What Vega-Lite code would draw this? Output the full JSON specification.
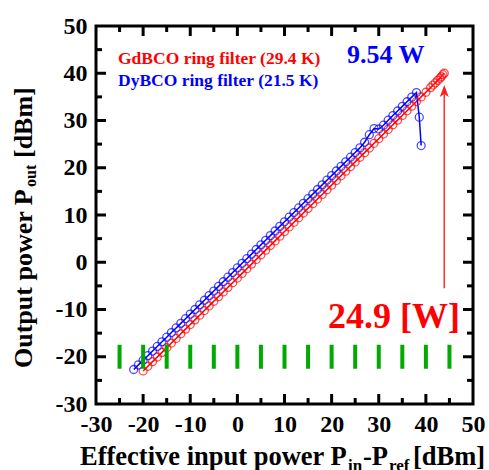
{
  "$schema": "https://vega.github.io/schema/vega-lite/v6.json",
  "width": 377,
  "height": 378,
  "autosize": {"type": "none"},
  "padding": {"left": 96, "top": 26, "right": 16, "bottom": 66},
  "background": "white",
  "config": {
    "view": {"stroke": "black", "strokeWidth": 3},
    "axis": {
      "domain": false,
      "grid": false,
      "labelFont": "Liberation Serif",
      "labelFontWeight": 700,
      "labelFontSize": 24,
      "labelColor": "black",
      "labelFlush": false,
      "labelOverlap": false,
      "labelBound": false
    },
    "text": {"font": "Liberation Serif", "fontWeight": "bold", "align": "left", "baseline": "alphabetic"}
  },
  "datasets": {
    "series": [
      {"s": "GdBCO", "x": -20, "y": -23.0}, {"s": "GdBCO", "x": -19, "y": -22.02}, {"s": "GdBCO", "x": -18, "y": -21.03}, {"s": "GdBCO", "x": -17, "y": -20.05}, {"s": "GdBCO", "x": -16, "y": -19.07}, {"s": "GdBCO", "x": -15, "y": -18.09}, {"s": "GdBCO", "x": -14, "y": -17.1}, {"s": "GdBCO", "x": -13, "y": -16.12}, {"s": "GdBCO", "x": -12, "y": -15.14}, {"s": "GdBCO", "x": -11, "y": -14.15}, {"s": "GdBCO", "x": -10, "y": -13.17}, {"s": "GdBCO", "x": -9, "y": -12.19}, {"s": "GdBCO", "x": -8, "y": -11.2}, {"s": "GdBCO", "x": -7, "y": -10.22}, {"s": "GdBCO", "x": -6, "y": -9.24}, {"s": "GdBCO", "x": -5, "y": -8.25}, {"s": "GdBCO", "x": -4, "y": -7.27}, {"s": "GdBCO", "x": -3, "y": -6.29}, {"s": "GdBCO", "x": -2, "y": -5.31}, {"s": "GdBCO", "x": -1, "y": -4.32}, {"s": "GdBCO", "x": 0, "y": -3.34}, {"s": "GdBCO", "x": 1, "y": -2.36}, {"s": "GdBCO", "x": 2, "y": -1.37}, {"s": "GdBCO", "x": 3, "y": -0.39}, {"s": "GdBCO", "x": 4, "y": 0.59}, {"s": "GdBCO", "x": 5, "y": 1.58}, {"s": "GdBCO", "x": 6, "y": 2.56}, {"s": "GdBCO", "x": 7, "y": 3.54}, {"s": "GdBCO", "x": 8, "y": 4.52}, {"s": "GdBCO", "x": 9, "y": 5.51}, {"s": "GdBCO", "x": 10, "y": 6.49}, {"s": "GdBCO", "x": 11, "y": 7.47}, {"s": "GdBCO", "x": 12, "y": 8.46}, {"s": "GdBCO", "x": 13, "y": 9.44}, {"s": "GdBCO", "x": 14, "y": 10.42}, {"s": "GdBCO", "x": 15, "y": 11.41}, {"s": "GdBCO", "x": 16, "y": 12.39}, {"s": "GdBCO", "x": 17, "y": 13.37}, {"s": "GdBCO", "x": 18, "y": 14.35}, {"s": "GdBCO", "x": 19, "y": 15.34}, {"s": "GdBCO", "x": 20, "y": 16.32}, {"s": "GdBCO", "x": 21, "y": 17.3}, {"s": "GdBCO", "x": 22, "y": 18.29}, {"s": "GdBCO", "x": 23, "y": 19.27}, {"s": "GdBCO", "x": 24, "y": 20.25}, {"s": "GdBCO", "x": 25, "y": 21.24}, {"s": "GdBCO", "x": 26, "y": 22.22}, {"s": "GdBCO", "x": 27, "y": 23.2}, {"s": "GdBCO", "x": 28, "y": 24.18}, {"s": "GdBCO", "x": 29, "y": 25.17}, {"s": "GdBCO", "x": 30, "y": 26.15}, {"s": "GdBCO", "x": 31, "y": 27.13}, {"s": "GdBCO", "x": 32, "y": 28.12}, {"s": "GdBCO", "x": 33, "y": 29.1}, {"s": "GdBCO", "x": 34, "y": 30.08}, {"s": "GdBCO", "x": 35, "y": 31.07}, {"s": "GdBCO", "x": 36, "y": 32.05}, {"s": "GdBCO", "x": 37, "y": 33.03}, {"s": "GdBCO", "x": 38, "y": 34.01}, {"s": "GdBCO", "x": 39, "y": 35.0}, {"s": "GdBCO", "x": 40, "y": 35.98}, {"s": "GdBCO", "x": 41, "y": 36.96}, {"s": "GdBCO", "x": 41.5, "y": 37.5}, {"s": "GdBCO", "x": 42, "y": 37.95}, {"s": "GdBCO", "x": 42.5, "y": 38.5}, {"s": "GdBCO", "x": 43, "y": 38.95}, {"s": "GdBCO", "x": 43.3, "y": 39.3}, {"s": "GdBCO", "x": 43.6, "y": 39.7}, {"s": "GdBCO", "x": 43.9, "y": 40.0},
      {"s": "DyBCO", "x": -22, "y": -22.7}, {"s": "DyBCO", "x": -21, "y": -21.72}, {"s": "DyBCO", "x": -20, "y": -20.75}, {"s": "DyBCO", "x": -19, "y": -19.77}, {"s": "DyBCO", "x": -18, "y": -18.79}, {"s": "DyBCO", "x": -17, "y": -17.82}, {"s": "DyBCO", "x": -16, "y": -16.84}, {"s": "DyBCO", "x": -15, "y": -15.86}, {"s": "DyBCO", "x": -14, "y": -14.88}, {"s": "DyBCO", "x": -13, "y": -13.91}, {"s": "DyBCO", "x": -12, "y": -12.93}, {"s": "DyBCO", "x": -11, "y": -11.95}, {"s": "DyBCO", "x": -10, "y": -10.98}, {"s": "DyBCO", "x": -9, "y": -10.0}, {"s": "DyBCO", "x": -8, "y": -9.02}, {"s": "DyBCO", "x": -7, "y": -8.04}, {"s": "DyBCO", "x": -6, "y": -7.07}, {"s": "DyBCO", "x": -5, "y": -6.09}, {"s": "DyBCO", "x": -4, "y": -5.11}, {"s": "DyBCO", "x": -3, "y": -4.13}, {"s": "DyBCO", "x": -2, "y": -3.16}, {"s": "DyBCO", "x": -1, "y": -2.18}, {"s": "DyBCO", "x": 0, "y": -1.21}, {"s": "DyBCO", "x": 1, "y": -0.23}, {"s": "DyBCO", "x": 2, "y": 0.75}, {"s": "DyBCO", "x": 3, "y": 1.72}, {"s": "DyBCO", "x": 4, "y": 2.7}, {"s": "DyBCO", "x": 5, "y": 3.68}, {"s": "DyBCO", "x": 6, "y": 4.65}, {"s": "DyBCO", "x": 7, "y": 5.63}, {"s": "DyBCO", "x": 8, "y": 6.61}, {"s": "DyBCO", "x": 9, "y": 7.59}, {"s": "DyBCO", "x": 10, "y": 8.56}, {"s": "DyBCO", "x": 11, "y": 9.54}, {"s": "DyBCO", "x": 12, "y": 10.52}, {"s": "DyBCO", "x": 13, "y": 11.49}, {"s": "DyBCO", "x": 14, "y": 12.47}, {"s": "DyBCO", "x": 15, "y": 13.45}, {"s": "DyBCO", "x": 16, "y": 14.42}, {"s": "DyBCO", "x": 17, "y": 15.4}, {"s": "DyBCO", "x": 18, "y": 16.38}, {"s": "DyBCO", "x": 19, "y": 17.36}, {"s": "DyBCO", "x": 20, "y": 18.33}, {"s": "DyBCO", "x": 21, "y": 19.31}, {"s": "DyBCO", "x": 22, "y": 20.29}, {"s": "DyBCO", "x": 23, "y": 21.26}, {"s": "DyBCO", "x": 24, "y": 22.24}, {"s": "DyBCO", "x": 25, "y": 23.22}, {"s": "DyBCO", "x": 26, "y": 24.2}, {"s": "DyBCO", "x": 27, "y": 25.4}, {"s": "DyBCO", "x": 28, "y": 27.0}, {"s": "DyBCO", "x": 29, "y": 28.3}, {"s": "DyBCO", "x": 30, "y": 28.2}, {"s": "DyBCO", "x": 31, "y": 29.0}, {"s": "DyBCO", "x": 32, "y": 30.06}, {"s": "DyBCO", "x": 33, "y": 31.04}, {"s": "DyBCO", "x": 34, "y": 32.01}, {"s": "DyBCO", "x": 35, "y": 32.99}, {"s": "DyBCO", "x": 36, "y": 33.97}, {"s": "DyBCO", "x": 37, "y": 34.94}, {"s": "DyBCO", "x": 38, "y": 35.92}, {"s": "DyBCO", "x": 38.6, "y": 30.7}, {"s": "DyBCO", "x": 39.0, "y": 24.7}
    ],
    "tickvals": [
      {"v": -25, "kind": "minor"}, {"v": -20, "kind": "major"}, {"v": -15, "kind": "minor"}, {"v": -10, "kind": "major"}, {"v": -5, "kind": "minor"}, {"v": 0, "kind": "major"}, {"v": 5, "kind": "minor"}, {"v": 10, "kind": "major"}, {"v": 15, "kind": "minor"}, {"v": 20, "kind": "major"}, {"v": 25, "kind": "minor"}, {"v": 30, "kind": "major"}, {"v": 35, "kind": "minor"}, {"v": 40, "kind": "major"}, {"v": 45, "kind": "minor"}
    ],
    "arrow": [{"x": 43.9, "y": -5.5, "y2": 35.9}],
    "notes": [
      {"id": "gd", "text": "GdBCO ring filter (29.4 K)", "x": -25.33, "y": 41.96},
      {"id": "dy", "text": "DyBCO ring filter (21.5 K)", "x": -25.33, "y": 37.3},
      {"id": "w1", "text": "9.54 W", "x": 23.26, "y": 42.17},
      {"id": "w2", "text": "24.9 [W]", "x": 19.23, "y": -13.9},
      {"id": "xt", "text": "Effective input power P", "x": -33.4, "y": -42.9},
      {"id": "xt", "text": "-P", "x": 26.66, "y": -42.9},
      {"id": "xt", "text": "[dBm]", "x": 37.27, "y": -42.9},
      {"id": "xs", "text": "in", "x": 23.48, "y": -44.2},
      {"id": "xs", "text": "ref", "x": 32.17, "y": -44.2},
      {"id": "yt", "text": "Output power P", "x": -43.6, "y": -22.38},
      {"id": "yt", "text": "[dBm]", "x": -43.6, "y": 22.06},
      {"id": "ys", "text": "out", "x": -42.75, "y": 15.93}
    ]
  },
  "layer": [
    {
      "data": {"name": "series"},
      "mark": {"type": "line", "strokeWidth": 1.5},
      "encoding": {
        "x": {"field": "x", "type": "quantitative", "scale": {"domain": [-30, 50]},
          "axis": {"orient": "bottom", "title": null, "ticks": false, "values": [-30,-20,-10,0,10,20,30,40,50],
            "labelExpr": "'' + datum.value", "labelFontWeight": 700, "labelPadding": 8}},
        "y": {"field": "y", "type": "quantitative", "scale": {"domain": [-30, 50]},
          "axis": {"orient": "left", "title": null, "ticks": false, "values": [-30,-20,-10,0,10,20,30,40,50],
            "labelExpr": "'' + datum.value", "labelFontWeight": 700, "labelPadding": 9}},
        "color": {"field": "s", "type": "nominal", "scale": {"domain": ["GdBCO", "DyBCO"], "range": ["#ff0000", "#0000ff"]}, "legend": null},
        "order": {"field": "x", "type": "quantitative"}
      }
    },
    {
      "data": {"name": "series"},
      "mark": {"type": "point", "shape": "circle", "filled": false, "size": 64, "strokeWidth": 1.3},
      "encoding": {
        "x": {"field": "x", "type": "quantitative", "scale": {"domain": [-30, 50]}, "axis": null},
        "y": {"field": "y", "type": "quantitative", "scale": {"domain": [-30, 50]}, "axis": null},
        "color": {"field": "s", "type": "nominal", "scale": {"domain": ["GdBCO", "DyBCO"], "range": ["#ff0000", "#0000ff"]}, "legend": null}
      }
    },
    {
      "data": {"name": "tickvals"},
      "mark": {"type": "tick", "orient": "vertical", "color": "#00aa00", "thickness": 4, "size": 24, "opacity": 1},
      "encoding": {
        "x": {"field": "v", "type": "quantitative", "scale": {"domain": [-30, 50]}, "axis": null},
        "y": {"datum": -20, "type": "quantitative", "scale": {"domain": [-30, 50]}, "axis": null}
      }
    },
    {
      "data": {"name": "tickvals"},
      "transform": [{"filter": "datum.kind === 'major'"}],
      "mark": {"type": "rule", "color": "black", "strokeWidth": 3},
      "encoding": {
        "x": {"field": "v", "type": "quantitative", "scale": {"domain": [-30, 50]}, "axis": null},
        "y": {"datum": -30, "type": "quantitative", "scale": {"domain": [-30, 50]}, "axis": null},
        "y2": {"datum": -27.88}
      }
    },
    {
      "data": {"name": "tickvals"},
      "transform": [{"filter": "datum.kind === 'minor'"}],
      "mark": {"type": "rule", "color": "black", "strokeWidth": 3},
      "encoding": {
        "x": {"field": "v", "type": "quantitative", "scale": {"domain": [-30, 50]}, "axis": null},
        "y": {"datum": -30, "type": "quantitative", "scale": {"domain": [-30, 50]}, "axis": null},
        "y2": {"datum": -28.73}
      }
    },
    {
      "data": {"name": "tickvals"},
      "transform": [{"filter": "datum.kind === 'major'"}],
      "mark": {"type": "rule", "color": "black", "strokeWidth": 3},
      "encoding": {
        "x": {"field": "v", "type": "quantitative", "scale": {"domain": [-30, 50]}, "axis": null},
        "y": {"datum": 50, "type": "quantitative", "scale": {"domain": [-30, 50]}, "axis": null},
        "y2": {"datum": 47.88}
      }
    },
    {
      "data": {"name": "tickvals"},
      "transform": [{"filter": "datum.kind === 'minor'"}],
      "mark": {"type": "rule", "color": "black", "strokeWidth": 3},
      "encoding": {
        "x": {"field": "v", "type": "quantitative", "scale": {"domain": [-30, 50]}, "axis": null},
        "y": {"datum": 50, "type": "quantitative", "scale": {"domain": [-30, 50]}, "axis": null},
        "y2": {"datum": 48.73}
      }
    },
    {
      "data": {"name": "tickvals"},
      "transform": [{"filter": "datum.kind === 'major'"}],
      "mark": {"type": "rule", "color": "black", "strokeWidth": 3},
      "encoding": {
        "y": {"field": "v", "type": "quantitative", "scale": {"domain": [-30, 50]}, "axis": null},
        "x": {"datum": -30, "type": "quantitative", "scale": {"domain": [-30, 50]}, "axis": null},
        "x2": {"datum": -27.88}
      }
    },
    {
      "data": {"name": "tickvals"},
      "transform": [{"filter": "datum.kind === 'minor'"}],
      "mark": {"type": "rule", "color": "black", "strokeWidth": 3},
      "encoding": {
        "y": {"field": "v", "type": "quantitative", "scale": {"domain": [-30, 50]}, "axis": null},
        "x": {"datum": -30, "type": "quantitative", "scale": {"domain": [-30, 50]}, "axis": null},
        "x2": {"datum": -28.73}
      }
    },
    {
      "data": {"name": "tickvals"},
      "transform": [{"filter": "datum.kind === 'major'"}],
      "mark": {"type": "rule", "color": "black", "strokeWidth": 3},
      "encoding": {
        "y": {"field": "v", "type": "quantitative", "scale": {"domain": [-30, 50]}, "axis": null},
        "x": {"datum": 50, "type": "quantitative", "scale": {"domain": [-30, 50]}, "axis": null},
        "x2": {"datum": 47.88}
      }
    },
    {
      "data": {"name": "tickvals"},
      "transform": [{"filter": "datum.kind === 'minor'"}],
      "mark": {"type": "rule", "color": "black", "strokeWidth": 3},
      "encoding": {
        "y": {"field": "v", "type": "quantitative", "scale": {"domain": [-30, 50]}, "axis": null},
        "x": {"datum": 50, "type": "quantitative", "scale": {"domain": [-30, 50]}, "axis": null},
        "x2": {"datum": 48.73}
      }
    },
    {
      "data": {"name": "arrow"},
      "mark": {"type": "rule", "color": "#ff3030", "strokeWidth": 1.5},
      "encoding": {
        "x": {"field": "x", "type": "quantitative", "scale": {"domain": [-30, 50]}, "axis": null},
        "y": {"field": "y", "type": "quantitative", "scale": {"domain": [-30, 50]}, "axis": null},
        "y2": {"field": "y2"}
      }
    },
    {
      "data": {"name": "arrow"},
      "mark": {"type": "point", "shape": "M0,-1L0.6,0.6L0,0.2L-0.6,0.6Z", "filled": true, "color": "#ff2020", "size": 225, "opacity": 1},
      "encoding": {
        "x": {"field": "x", "type": "quantitative", "scale": {"domain": [-30, 50]}, "axis": null},
        "y": {"field": "y2", "type": "quantitative", "scale": {"domain": [-30, 50]}, "axis": null}
      }
    },
    {
      "data": {"name": "notes"},
      "transform": [{"filter": "datum.id === 'gd'"}],
      "mark": {"type": "text", "fontSize": 17.5, "color": "#ff0000"},
      "encoding": {
        "x": {"field": "x", "type": "quantitative", "scale": {"domain": [-30, 50]}, "axis": null},
        "y": {"field": "y", "type": "quantitative", "scale": {"domain": [-30, 50]}, "axis": null},
        "text": {"field": "text"}
      }
    },
    {
      "data": {"name": "notes"},
      "transform": [{"filter": "datum.id === 'dy'"}],
      "mark": {"type": "text", "fontSize": 17.5, "color": "#0000ff"},
      "encoding": {
        "x": {"field": "x", "type": "quantitative", "scale": {"domain": [-30, 50]}, "axis": null},
        "y": {"field": "y", "type": "quantitative", "scale": {"domain": [-30, 50]}, "axis": null},
        "text": {"field": "text"}
      }
    },
    {
      "data": {"name": "notes"},
      "transform": [{"filter": "datum.id === 'w1'"}],
      "mark": {"type": "text", "fontSize": 26, "color": "#0000ff"},
      "encoding": {
        "x": {"field": "x", "type": "quantitative", "scale": {"domain": [-30, 50]}, "axis": null},
        "y": {"field": "y", "type": "quantitative", "scale": {"domain": [-30, 50]}, "axis": null},
        "text": {"field": "text"}
      }
    },
    {
      "data": {"name": "notes"},
      "transform": [{"filter": "datum.id === 'w2'"}],
      "mark": {"type": "text", "fontSize": 36, "color": "#ff0000"},
      "encoding": {
        "x": {"field": "x", "type": "quantitative", "scale": {"domain": [-30, 50]}, "axis": null},
        "y": {"field": "y", "type": "quantitative", "scale": {"domain": [-30, 50]}, "axis": null},
        "text": {"field": "text"}
      }
    },
    {
      "data": {"name": "notes"},
      "transform": [{"filter": "datum.id === 'xt'"}],
      "mark": {"type": "text", "fontSize": 26.5, "color": "black"},
      "encoding": {
        "x": {"field": "x", "type": "quantitative", "scale": {"domain": [-30, 50]}, "axis": null},
        "y": {"field": "y", "type": "quantitative", "scale": {"domain": [-30, 50]}, "axis": null},
        "text": {"field": "text"}
      }
    },
    {
      "data": {"name": "notes"},
      "transform": [{"filter": "datum.id === 'xs'"}],
      "mark": {"type": "text", "fontSize": 17, "color": "black"},
      "encoding": {
        "x": {"field": "x", "type": "quantitative", "scale": {"domain": [-30, 50]}, "axis": null},
        "y": {"field": "y", "type": "quantitative", "scale": {"domain": [-30, 50]}, "axis": null},
        "text": {"field": "text"}
      }
    },
    {
      "data": {"name": "notes"},
      "transform": [{"filter": "datum.id === 'yt'"}],
      "mark": {"type": "text", "fontSize": 26, "color": "black", "angle": 270},
      "encoding": {
        "x": {"field": "x", "type": "quantitative", "scale": {"domain": [-30, 50]}, "axis": null},
        "y": {"field": "y", "type": "quantitative", "scale": {"domain": [-30, 50]}, "axis": null},
        "text": {"field": "text"}
      }
    },
    {
      "data": {"name": "notes"},
      "transform": [{"filter": "datum.id === 'ys'"}],
      "mark": {"type": "text", "fontSize": 16, "color": "black", "angle": 270},
      "encoding": {
        "x": {"field": "x", "type": "quantitative", "scale": {"domain": [-30, 50]}, "axis": null},
        "y": {"field": "y", "type": "quantitative", "scale": {"domain": [-30, 50]}, "axis": null},
        "text": {"field": "text"}
      }
    }
  ],
  "resolve": {"axis": {"x": "independent", "y": "independent"}}
}
